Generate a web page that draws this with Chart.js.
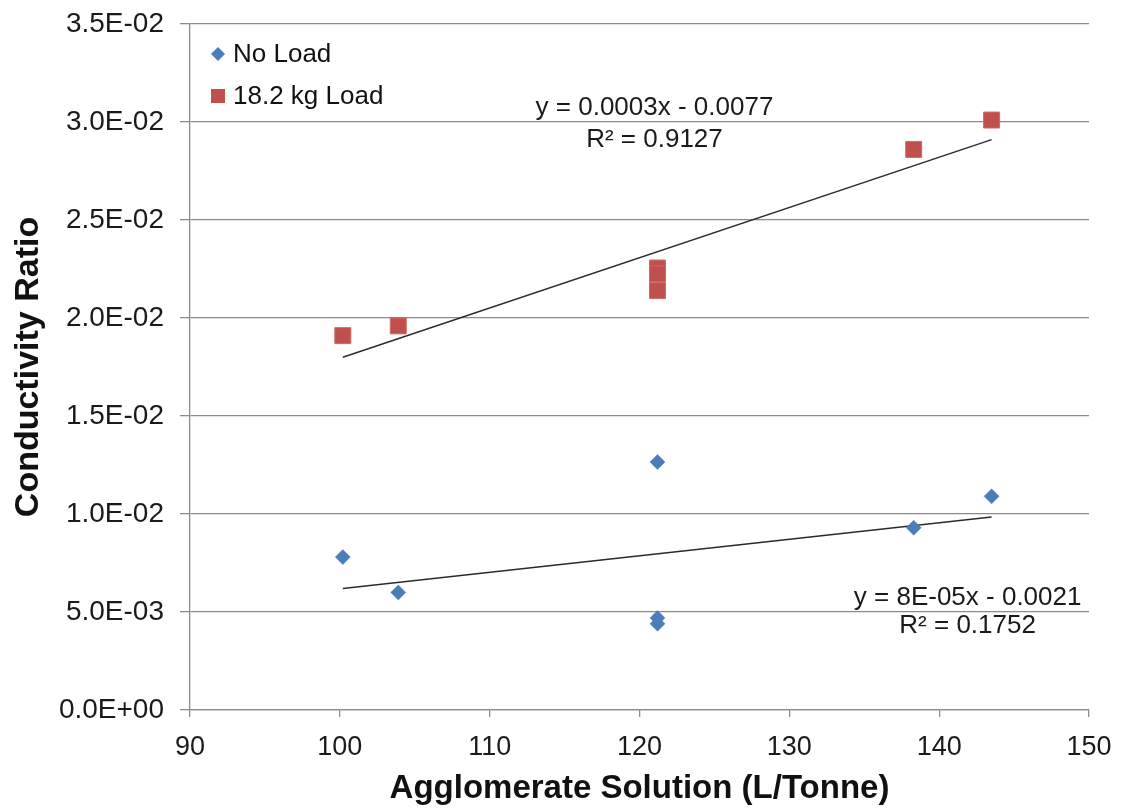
<!DOCTYPE html>
<html>
<head>
<meta charset="utf-8">
<script src="https://cdn.jsdelivr.net/npm/chart.js@4.4.1/dist/chart.umd.min.js"></script>
<style>
  html, body { margin: 0; padding: 0; background: #fff; }
  #wrap { width: 1122px; height: 809px; }
</style>
</head>
<body>
<div id="wrap"><canvas id="c" width="1122" height="809"></canvas></div>
<script>
"use strict";

// ---------------- data ----------------
const noLoadX = [100.2, 103.9, 121.2, 121.2, 121.2, 138.3, 143.5];
const noLoadY = [0.0078, 0.0060, 0.01265, 0.0047, 0.0044, 0.0093, 0.0109];

const loadX = [100.2, 103.9, 121.2, 121.2, 121.2, 138.3, 143.5];
const loadY = [0.0191, 0.0196, 0.02255, 0.02225, 0.0214, 0.0286, 0.0301];

// trendline end points
const noLoadTrendX = [100.2, 143.5];
const noLoadTrendY = [0.0062, 0.00985];
const loadTrendX = [100.2, 143.5];
const loadTrendY = [0.0180, 0.0291];

const xTicks = [90, 100, 110, 120, 130, 140, 150];
const yTickLabels = ["0.0E+00", "5.0E-03", "1.0E-02", "1.5E-02", "2.0E-02", "2.5E-02", "3.0E-02", "3.5E-02"];

// equation labels: [text lines], [x, y line 1, y line 2]
const loadEq = ["y = 0.0003x - 0.0077", "R\u00b2 = 0.9127"];
const loadEqPos = [121.0, 0.03071, 0.02908];
const noLoadEq = ["y = 8E-05x - 0.0021", "R\u00b2 = 0.1752"];
const noLoadEqPos = [141.9, 0.00571, 0.00429];

const BLUE = "#4a7ebb";
const RED = "#c0504d";
const FONT = "'Liberation Sans', Arial, sans-serif";

const pts = (xs, ys) => xs.map((x, i) => ({ x, y: ys[i] }));

// ---------------- plugins ----------------
const eqLabels = {
  id: "eqLabels",
  afterDatasetsDraw(chart) {
    const { ctx, scales: { x, y } } = chart;
    ctx.save();
    ctx.fillStyle = "#1a1a1a";
    ctx.font = "26px " + FONT;
    ctx.textAlign = "center";
    ctx.textBaseline = "middle";
    for (const [lines, pos] of [[loadEq, loadEqPos], [noLoadEq, noLoadEqPos]]) {
      const px = x.getPixelForValue(pos[0]);
      ctx.fillText(lines[0], px, y.getPixelForValue(pos[1]));
      ctx.fillText(lines[1], px, y.getPixelForValue(pos[2]));
    }
    ctx.restore();
  },
};

const boxLegend = {
  id: "boxLegend",
  afterDraw(chart) {
    const { ctx, chartArea } = chart;
    const items = chart.data.datasets.filter((d) => d.inLegend);
    ctx.save();
    ctx.font = "26px " + FONT;
    ctx.textBaseline = "middle";
    ctx.textAlign = "left";
    items.forEach((d, i) => {
      const cx = chartArea.left + 28, cy = chartArea.top + 30 + i * 42;
      ctx.fillStyle = d.backgroundColor;
      ctx.beginPath();
      if (d.pointStyle === "rectRot") {
        ctx.moveTo(cx, cy - 7); ctx.lineTo(cx + 7, cy);
        ctx.lineTo(cx, cy + 7); ctx.lineTo(cx - 7, cy);
      } else {
        ctx.rect(cx - 7, cy - 7, 14, 14);
      }
      ctx.closePath();
      ctx.fill();
      ctx.fillStyle = "#111";
      ctx.fillText(d.label, cx + 15, cy + 1);
    });
    ctx.restore();
  },
};

// ---------------- chart ----------------
new Chart(document.getElementById("c"), {
  type: "scatter",
  data: {
    datasets: [
      { label: "No Load trend", data: pts(noLoadTrendX, noLoadTrendY), showLine: true,
        borderColor: "#2b2b2b", borderWidth: 1.5, pointRadius: 0, order: 2 },
      { label: "18.2 kg Load trend", data: pts(loadTrendX, loadTrendY), showLine: true,
        borderColor: "#2b2b2b", borderWidth: 1.5, pointRadius: 0, order: 2 },
      { label: "No Load", inLegend: true, data: pts(noLoadX, noLoadY), pointStyle: "rectRot",
        pointRadius: 7.5, backgroundColor: BLUE, borderColor: BLUE, borderWidth: 0.5, order: 1 },
      { label: "18.2 kg Load", inLegend: true, data: pts(loadX, loadY), pointStyle: "rect",
        pointRadius: 11.3, backgroundColor: RED, borderColor: "#d06a66", borderWidth: 1, order: 1 },
    ],
  },
  options: {
    responsive: false,
    animation: false,
    layout: { padding: { top: 24, right: 33, left: 0, bottom: 0 } },
    plugins: { legend: { display: false }, tooltip: { enabled: false } },
    scales: {
      x: {
        type: "linear", min: 90, max: 150,
        afterBuildTicks: (axis) => { axis.ticks = xTicks.map((v) => ({ value: v })); },
        afterFit: (axis) => { axis.height = 99; axis.paddingLeft = 0; axis.paddingRight = 0; },
        grid: { drawOnChartArea: false, drawTicks: true, tickLength: 7, color: "#8c8c8c", lineWidth: 1.3 },
        border: { color: "#8c8c8c", width: 1.3 },
        ticks: { color: "#1a1a1a", font: { family: FONT, size: 27 }, padding: 14 },
        title: { display: true, text: "Agglomerate Solution (L/Tonne)", color: "#111",
                 font: { family: FONT, size: 33, weight: "bold" }, padding: { top: 0, bottom: 0 } },
      },
      y: {
        type: "linear", min: 0, max: 0.035,
        afterBuildTicks: (axis) => { axis.ticks = yTickLabels.map((_, i) => ({ value: i * 0.005 })); },
        afterFit: (axis) => { axis.width = 190; axis.paddingTop = 0; axis.paddingBottom = 0; },
        grid: { color: "#8c8c8c", lineWidth: 1.3, drawTicks: true, tickLength: 10 },
        border: { color: "#8c8c8c", width: 1.3 },
        ticks: { color: "#1a1a1a", font: { family: FONT, size: 28 }, padding: 16,
                 callback: (v, i) => yTickLabels[i] },
        title: { display: true, text: "Conductivity Ratio", color: "#111",
                 font: { family: FONT, size: 34, weight: "bold" }, padding: { top: 8, bottom: 0 } },
      },
    },
  },
  plugins: [eqLabels, boxLegend],
});
</script>
</body>
</html>
